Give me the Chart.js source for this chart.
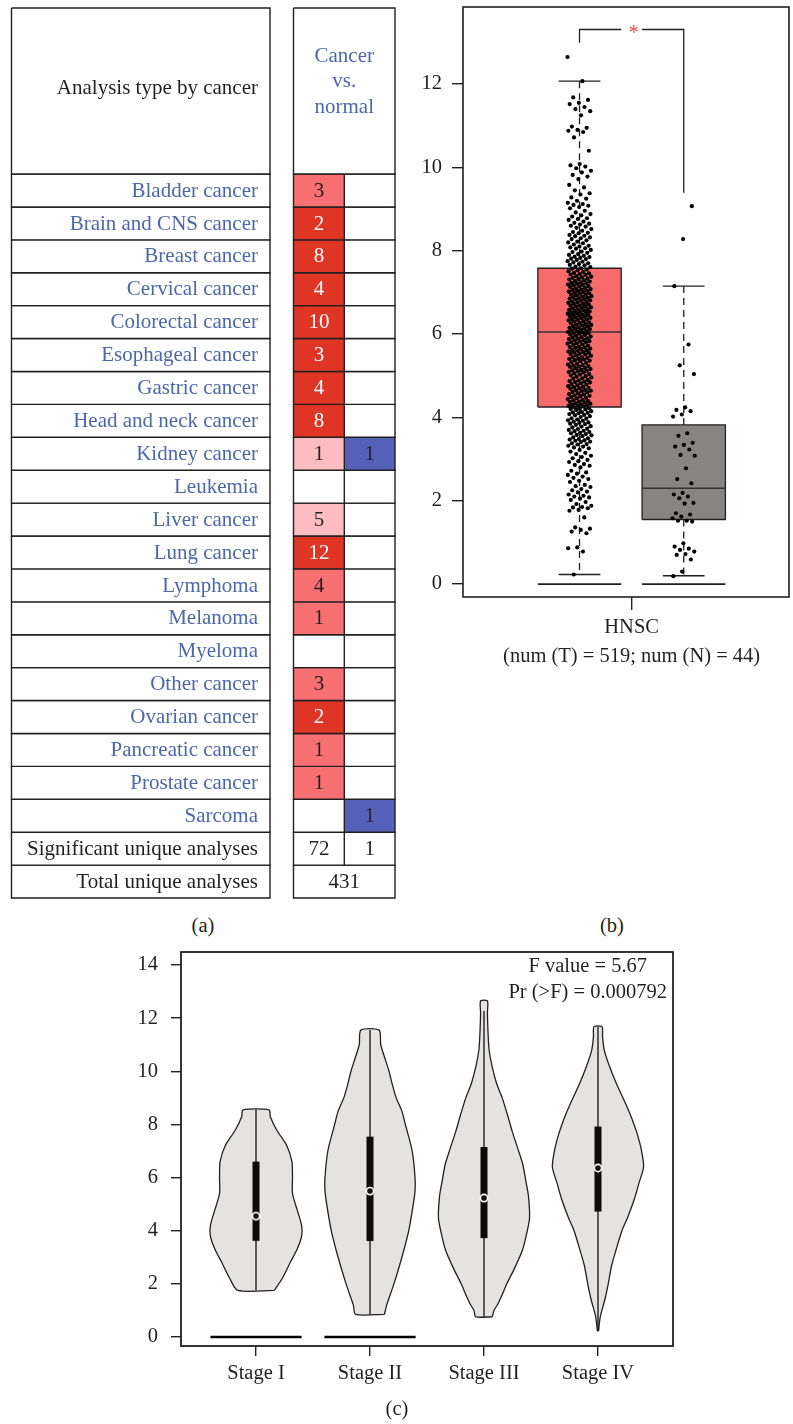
<!DOCTYPE html>
<html>
<head>
<meta charset="utf-8">
<script src="https://cdn.jsdelivr.net/npm/chart.js@4.4.1/dist/chart.umd.min.js"></script>
<style>
  body { margin: 0; background: #fff; width: 793px; height: 1424px; position: relative; overflow: hidden;
         font-family: "Liberation Serif", serif; color: #231f20; }
  .panel { position: absolute; }
  .tag { position: absolute; font-size: 20.5px; transform: translate(-50%, -50%); }
</style>
</head>
<body>
<div class="panel" style="left:0;top:0"><canvas id="tableChart" width="400" height="905"></canvas></div>
<div class="panel" style="left:400px;top:0"><canvas id="boxChart" width="393" height="680"></canvas></div>
<div class="panel" style="left:100px;top:940px"><canvas id="violinChart" width="600" height="460"></canvas></div>
<div class="tag" style="left:203px;top:925px">(a)</div>
<div class="tag" style="left:612px;top:925px">(b)</div>
<div class="tag" style="left:397px;top:1408px">(c)</div>

<script>
// ---- panel (a): Oncomine-style summary table ----
const cancerTypes = ["Bladder cancer", "Brain and CNS cancer", "Breast cancer", "Cervical cancer",
  "Colorectal cancer", "Esophageal cancer", "Gastric cancer", "Head and neck cancer", "Kidney cancer",
  "Leukemia", "Liver cancer", "Lung cancer", "Lymphoma", "Melanoma", "Myeloma", "Other cancer",
  "Ovarian cancer", "Pancreatic cancer", "Prostate cancer", "Sarcoma"];
const overCounts = [3, 2, 8, 4, 10, 3, 4, 8, 1, null, 5, 12, 4, 1, null, 3, 2, 1, 1, null];
// rank level of the over-expression cell: 3 = top 1%, 2 = top 5%, 1 = top 10%
const overLevels = [2, 3, 3, 3, 3, 3, 3, 3, 1, 0, 1, 3, 2, 2, 0, 2, 3, 2, 2, 0];
const underCounts = [null, null, null, null, null, null, null, null, 1, null, null, null, null, null, null, null, null, null, null, 1];
const summaryLabels = ["Significant unique analyses", "Total unique analyses"];
const significantCounts = [72, 1];
const totalAnalyses = 431;

// ---- panel (b): HNSC box plot ----
const groupCenters = [1, 2];
const groupQ1 = [4.25, 1.55];
const groupMedian = [6.05, 2.3];
const groupQ3 = [7.58, 3.82];
const groupLow = [0.23, 0.2];
const groupHigh = [12.07, 7.15];
const groupFills = ["#f86b6b", "#878483"];
const boxYTicks = [0, 2, 4, 6, 8, 10, 12];
const boxXLabel = ["HNSC", "(num (T) = 519; num (N) = 44)"];
const tumorValues = [
  12.65, 12.07, 11.68, 11.62, 11.55, 11.52, 11.45, 11.4, 11.35, 11.25, 10.98, 10.95, 10.9, 10.88, 10.85, 10.72, 10.4,
  10.08, 10.05, 10.02, 9.98, 9.92, 9.88, 9.82, 9.78, 9.72,
  9.58, 9.52, 9.45, 9.38, 9.35, 9.28, 9.25, 9.2, 9.15, 9.12, 9.1, 9.08, 9.05, 9.02,
  8.96, 8.92, 8.88, 8.85, 8.82, 8.78, 8.76, 8.74, 8.7, 8.67, 8.65, 8.63, 8.6, 8.58, 8.55, 8.52,
  8.48, 8.45, 8.43, 8.42, 8.38, 8.36, 8.35, 8.32, 8.3, 8.28, 8.25, 8.22, 8.2, 8.18, 8.15, 8.12, 8.1, 8.08, 8.06, 8.05, 8.02,
  7.98, 7.97, 7.95, 7.92, 7.9, 7.88, 7.86, 7.85, 7.83, 7.81, 7.8, 7.78, 7.75, 7.74, 7.72, 7.7, 7.68, 7.66, 7.65, 7.62, 7.61,
  7.58, 7.57, 7.55, 7.53, 7.51, 7.49,
  7.47, 7.46, 7.44, 7.43, 7.42, 7.39, 7.38, 7.36, 7.35, 7.33, 7.32, 7.31, 7.29, 7.27, 7.26, 7.24, 7.23, 7.22, 7.21, 7.19, 7.18,
  7.17, 7.15, 7.14, 7.13, 7.11, 7.09, 7.08, 7.07, 7.06, 7.04, 7.03, 7.02, 7.01,
  6.99, 6.98, 6.97, 6.95, 6.94, 6.93, 6.91, 6.9, 6.89, 6.87, 6.86, 6.85, 6.84, 6.83, 6.81, 6.8, 6.78, 6.77, 6.76, 6.75, 6.73,
  6.72, 6.71, 6.69, 6.68, 6.67, 6.66, 6.64, 6.63, 6.62, 6.6, 6.59, 6.58, 6.57, 6.55, 6.54, 6.53, 6.52, 6.51, 6.5,
  6.49, 6.47, 6.46, 6.45, 6.44, 6.43, 6.42, 6.4, 6.39, 6.38, 6.36, 6.35, 6.34, 6.33, 6.31, 6.3, 6.28, 6.27, 6.26, 6.24, 6.23,
  6.22, 6.21, 6.19, 6.18, 6.16, 6.15, 6.14, 6.13, 6.12, 6.1, 6.09, 6.07, 6.06, 6.05, 6.04, 6.03, 6.02, 6.01,
  5.99, 5.98, 5.96, 5.94, 5.93, 5.92, 5.9, 5.89, 5.88, 5.86, 5.85, 5.83, 5.82, 5.81, 5.8, 5.78, 5.77, 5.75, 5.74, 5.72,
  5.7, 5.69, 5.68, 5.67, 5.65, 5.64, 5.62, 5.61, 5.6, 5.58, 5.57, 5.56, 5.55, 5.53, 5.52, 5.51,
  5.49, 5.48, 5.45, 5.44, 5.43, 5.41, 5.4, 5.39, 5.37, 5.36, 5.35, 5.32, 5.31, 5.29, 5.27, 5.26, 5.24, 5.23, 5.22, 5.21,
  5.19, 5.18, 5.16, 5.14, 5.13, 5.12, 5.11, 5.09, 5.08, 5.06, 5.04, 5.03, 5.01,
  4.99, 4.98, 4.96, 4.94, 4.93, 4.9, 4.89, 4.87, 4.86, 4.85, 4.84, 4.82, 4.8, 4.79, 4.77, 4.75, 4.74, 4.72, 4.71, 4.7,
  4.69, 4.66, 4.65, 4.64, 4.63, 4.61, 4.6, 4.58, 4.56, 4.55, 4.53, 4.52, 4.51,
  4.49, 4.47, 4.46, 4.44, 4.42, 4.41, 4.39, 4.38, 4.37, 4.36, 4.34, 4.33, 4.31, 4.3, 4.29, 4.28, 4.27, 4.26,
  4.24, 4.22, 4.21, 4.2, 4.19, 4.18, 4.15, 4.13, 4.12, 4.11, 4.1, 4.08, 4.06, 4.05, 4.03, 4.01,
  3.98, 3.97, 3.95, 3.93, 3.92, 3.9, 3.88, 3.87, 3.85, 3.84, 3.82, 3.79, 3.78, 3.76, 3.73, 3.72, 3.7, 3.68, 3.67, 3.65,
  3.63, 3.62, 3.6, 3.58, 3.57, 3.55, 3.52, 3.5,
  3.48, 3.47, 3.45, 3.44, 3.42, 3.41, 3.38, 3.36, 3.35, 3.32, 3.3, 3.28, 3.26, 3.22, 3.18, 3.15, 3.12, 3.08, 3.05, 3.02,
  2.98, 2.95, 2.93, 2.88, 2.86, 2.84, 2.8, 2.72, 2.68, 2.65, 2.62, 2.58, 2.55, 2.52,
  2.48, 2.45, 2.38, 2.35, 2.33, 2.28, 2.25, 2.22, 2.2, 2.15, 2.12, 2.1, 2.08, 2.05, 2.02,
  1.97, 1.92, 1.88, 1.85, 1.84, 1.82, 1.78, 1.76, 1.6,
  1.36, 1.33, 1.3, 1.26, 1.22, 0.88, 0.86, 0.78, 0.23
];
const normalValues = [9.07, 8.28, 7.15, 5.75, 5.25, 5.04, 4.24, 4.18, 4.15, 4.07, 4.02, 3.62, 3.56, 3.39, 3.34,
  3.3, 3.23, 3.1, 3.08, 2.78, 2.52, 2.42, 2.19, 2.15, 2.1, 2.06, 1.95, 1.93, 1.7, 1.67, 1.62, 1.58, 1.52,
  1.52, 1.5, 0.98, 0.9, 0.85, 0.82, 0.78, 0.72, 0.7, 0.59, 0.3, 0.19];
const bracket = { left: 12.99, top: 13.31, right: 9.39 };

// ---- panel (c): violin plot by stage ----
const stageLabels = ["Stage I", "Stage II", "Stage III", "Stage IV"];
const violinLevels = [
  [1.75, 2.2, 2.8, 3.3, 3.8, 4.2, 4.8, 5.4, 6.0, 6.6, 7.2, 7.8, 8.3, 8.55],
  [0.85, 1.2, 2.0, 3.0, 4.0, 5.0, 5.5, 6.0, 7.0, 8.0, 8.5, 9.0, 9.5, 10.0, 10.5, 11.0, 11.55],
  [0.76, 1.0, 1.27, 1.6, 2.0, 2.6, 3.3, 4.0, 4.5, 5.3, 5.8, 6.5, 7.05, 7.7, 8.3, 9.0, 9.55, 10.2, 10.8, 11.5, 12.2, 12.65],
  [0.23, 0.76, 1.4, 2.0, 2.7, 3.3, 4.0, 4.5, 5.2, 5.8, 6.4, 7.05, 7.7, 8.3, 8.9, 9.55, 10.2, 10.8, 11.3, 11.68]
];
const violinWidths = [
  [0.16, 0.23, 0.3, 0.36, 0.4, 0.4, 0.36, 0.32, 0.32, 0.315, 0.27, 0.18, 0.125, 0.115],
  [0.127, 0.146, 0.21, 0.28, 0.34, 0.38, 0.395, 0.395, 0.37, 0.31, 0.28, 0.23, 0.196, 0.167, 0.13, 0.094, 0.08],
  [0.073, 0.088, 0.125, 0.16, 0.2, 0.27, 0.34, 0.38, 0.4, 0.39, 0.37, 0.34, 0.3, 0.25, 0.21, 0.16, 0.11, 0.07, 0.045, 0.035, 0.03, 0.03],
  [0.005, 0.02, 0.06, 0.09, 0.12, 0.16, 0.21, 0.26, 0.32, 0.36, 0.4, 0.38, 0.34, 0.29, 0.23, 0.16, 0.1, 0.055, 0.04, 0.035]
];
const stageQ1 = [3.62, 3.61, 3.72, 4.72];
const stageMedian = [4.55, 5.49, 5.23, 6.36];
const stageQ3 = [6.6, 7.54, 7.15, 7.92];
const stageLow = [1.75, 0.85, 0.76, 0.23];
const stageHigh = [8.55, 11.55, 12.27, 11.68];
const zeroStages = [1, 2];
const violinYTicks = [0, 2, 4, 6, 8, 10, 12, 14];
const anovaText = ["F value = 5.67", "Pr (>F) = 0.000792"];

// ---- shared style ----
const ink = "#231f20";
const linkBlue = "#4a68aa";
const serif = '"Liberation Serif", "Times New Roman", serif';
const levelColors = ["#ffffff", "#fdbcc0", "#f87071", "#df3524"];
const underColor = "#5560b8";
Chart.defaults.font.family = serif;
Chart.defaults.font.size = 20.5;
Chart.defaults.color = ink;

const baseOptions = {
  responsive: false,
  animation: false,
  events: [],
  plugins: { legend: { display: false }, tooltip: { enabled: false } }
};

function line(points, color, width, extra) {
  return Object.assign({ data: points, showLine: true, fill: false, borderColor: color, borderWidth: width,
    pointRadius: 0, clip: false, order: 2 }, extra || {});
}
function rect(x0, x1, y0, y1, fillColor, width, order) {
  return line([{ x: x0, y: y0 }, { x: x1, y: y0 }, { x: x1, y: y1 }, { x: x0, y: y1 }, { x: x0, y: y0 }],
    ink, width, { fill: "shape", backgroundColor: fillColor, order: order });
}
// keep the plot area exactly where the figure has it
function fixWidth(w) {
  return (axis) => { axis.width = w; axis.paddingTop = 0; axis.paddingBottom = 0; };
}
function fixHeight(h) {
  return (axis) => { axis.height = h; axis.paddingLeft = 0; axis.paddingRight = 0; };
}

// ========== panel (a) ==========
const colLabel = [0.5, 259], colOver = [282.5, 333.3], colUnder = [333.3, 384];
const headerTop = -5.045;
const tableSets = [];
tableSets.push(rect(colLabel[0], colLabel[1], headerTop, 0, "#fff", 1.4, 1));
tableSets.push(rect(colOver[0], colUnder[1], headerTop, 0, "#fff", 1.4, 1));
const rowCount = cancerTypes.length + summaryLabels.length;
for (let r = 0; r < rowCount; r++) {
  tableSets.push(rect(colLabel[0], colLabel[1], r, r + 1, "#fff", 1.4, 1));
}
cancerTypes.forEach((name, r) => {
  tableSets.push(rect(colOver[0], colOver[1], r, r + 1, levelColors[overLevels[r]], 1.4, 1));
  tableSets.push(rect(colUnder[0], colUnder[1], r, r + 1, underCounts[r] ? underColor : "#fff", 1.4, 1));
});
const sigRow = cancerTypes.length;
tableSets.push(rect(colOver[0], colOver[1], sigRow, sigRow + 1, "#fff", 1.4, 1));
tableSets.push(rect(colUnder[0], colUnder[1], sigRow, sigRow + 1, "#fff", 1.4, 1));
tableSets.push(rect(colOver[0], colUnder[1], sigRow + 1, sigRow + 2, "#fff", 1.4, 1));

const tableText = {
  id: "tableText",
  afterDatasetsDraw(chart) {
    const { ctx, scales: { x, y } } = chart;
    const mid = (c) => x.getPixelForValue((c[0] + c[1]) / 2);
    ctx.save();
    ctx.font = "21px " + serif;
    ctx.textBaseline = "middle";
    ctx.textAlign = "right";
    ctx.fillStyle = ink;
    ctx.fillText("Analysis type by cancer", x.getPixelForValue(247), y.getPixelForValue(-2.6));
    ctx.textAlign = "center";
    ctx.fillStyle = linkBlue;
    ["Cancer", "vs.", "normal"].forEach((t, i) => {
      ctx.fillText(t, x.getPixelForValue((colOver[0] + colUnder[1]) / 2), y.getPixelForValue(-3.58 + i * 0.78));
    });
    cancerTypes.forEach((name, r) => {
      const yy = y.getPixelForValue(r + 0.52);
      ctx.textAlign = "right";
      ctx.fillStyle = linkBlue;
      ctx.fillText(name, x.getPixelForValue(247), yy);
      ctx.textAlign = "center";
      if (overCounts[r] !== null) {
        ctx.fillStyle = overLevels[r] === 3 ? "#ffffff" : ink;
        ctx.fillText(String(overCounts[r]), mid(colOver), yy);
      }
      if (underCounts[r] !== null) {
        ctx.fillStyle = ink;
        ctx.fillText(String(underCounts[r]), mid(colUnder), yy);
      }
    });
    ctx.fillStyle = ink;
    summaryLabels.forEach((label, i) => {
      ctx.textAlign = "right";
      ctx.fillText(label, x.getPixelForValue(247), y.getPixelForValue(sigRow + i + 0.52));
    });
    ctx.textAlign = "center";
    ctx.fillText(String(significantCounts[0]), mid(colOver), y.getPixelForValue(sigRow + 0.52));
    ctx.fillText(String(significantCounts[1]), mid(colUnder), y.getPixelForValue(sigRow + 0.52));
    ctx.fillText(String(totalAnalyses), x.getPixelForValue((colOver[0] + colUnder[1]) / 2), y.getPixelForValue(sigRow + 1.52));
    ctx.restore();
  }
};

new Chart(document.getElementById("tableChart"), {
  type: "scatter",
  data: { datasets: tableSets },
  options: Object.assign({}, baseOptions, {
    layout: { padding: { left: 11, right: 5, top: 8, bottom: 7 } },
    scales: {
      x: { type: "linear", display: false, min: 0, max: 384 },
      y: { type: "linear", display: false, min: headerTop, max: rowCount, reverse: true }
    }
  }),
  plugins: [tableText]
});

// ========== panel (b) ==========
function jitter(i, spread) {
  return (((i * 0.6180339887) % 1) - 0.5) * 2 * spread;
}
const boxSets = [];
boxSets.push({ data: tumorValues.map((v, i) => ({ x: groupCenters[0] + jitter(i, 0.115), y: v })),
  pointRadius: 2.1, pointBackgroundColor: "#000", pointBorderWidth: 0, showLine: false, order: 0, clip: false });
boxSets.push({ data: normalValues.map((v, i) => ({ x: groupCenters[1] + jitter(i + 3, 0.11), y: v })),
  pointRadius: 2.1, pointBackgroundColor: "#000", pointBorderWidth: 0, showLine: false, order: 0, clip: false });
groupCenters.forEach((cx, g) => {
  boxSets.push(rect(cx - 0.4, cx + 0.4, groupQ1[g], groupQ3[g], groupFills[g], 1.3, 3));
  boxSets.push(line([{ x: cx - 0.4, y: groupMedian[g] }, { x: cx + 0.4, y: groupMedian[g] }], "#333", 1.5, { order: 1 }));
  boxSets.push(line([{ x: cx, y: groupQ3[g] }, { x: cx, y: groupHigh[g] }], ink, 1.3, { borderDash: [7, 5] }));
  boxSets.push(line([{ x: cx, y: groupQ1[g] }, { x: cx, y: groupLow[g] }], ink, 1.3, { borderDash: [7, 5] }));
  boxSets.push(line([{ x: cx - 0.2, y: groupHigh[g] }, { x: cx + 0.2, y: groupHigh[g] }], ink, 1.4));
  boxSets.push(line([{ x: cx - 0.2, y: groupLow[g] }, { x: cx + 0.2, y: groupLow[g] }], ink, 1.4));
  boxSets.push(line([{ x: cx - 0.4, y: 0 }, { x: cx + 0.4, y: 0 }], ink, 1.6));
});
boxSets.push(line([{ x: 1, y: bracket.left }, { x: 1, y: bracket.top }, { x: 1.4, y: bracket.top }], ink, 1.3));
boxSets.push(line([{ x: 1.6, y: bracket.top }, { x: 2, y: bracket.top }, { x: 2, y: bracket.right }], ink, 1.3));

const frameAndStar = {
  id: "frameAndStar",
  afterDatasetsDraw(chart) {
    const { ctx, chartArea: a, scales: { x, y } } = chart;
    ctx.save();
    ctx.strokeStyle = ink;
    ctx.lineWidth = 1.6;
    ctx.strokeRect(a.left, a.top, a.right - a.left, a.bottom - a.top);
    ctx.fillStyle = "#e8463c";
    ctx.font = "20px " + serif;
    ctx.textAlign = "center";
    ctx.textBaseline = "middle";
    ctx.fillText("*", x.getPixelForValue(1.52), y.getPixelForValue(bracket.top) + 4);
    ctx.restore();
  }
};

new Chart(document.getElementById("boxChart"), {
  type: "scatter",
  data: { datasets: boxSets },
  options: Object.assign({}, baseOptions, {
    layout: { padding: { left: 0, right: 1, top: 7, bottom: 0 } },
    scales: {
      x: {
        type: "linear", min: -0.118, max: 3.01,
        afterBuildTicks: (axis) => { axis.ticks = [{ value: 1.5 }]; },
        afterFit: fixHeight(83),
        ticks: { callback: () => boxXLabel, padding: 3, font: { size: 20.5, lineHeight: 1.41 }, maxRotation: 0 },
        grid: { drawOnChartArea: false, tickLength: 13, color: ink, lineWidth: 1.4 },
        border: { display: false }
      },
      y: {
        type: "linear", min: -0.31, max: 13.85,
        afterBuildTicks: (axis) => { axis.ticks = boxYTicks.map((v) => ({ value: v })); },
        afterFit: fixWidth(63),
        ticks: { padding: 10 },
        grid: { drawOnChartArea: false, tickLength: 11, color: ink, lineWidth: 1.4 },
        border: { display: false }
      }
    }
  }),
  plugins: [frameAndStar]
});

// ========== panel (c) ==========
const violinSets = [];
stageLabels.forEach((label, s) => {
  const cx = s + 1;
  const lv = violinLevels[s], wd = violinWidths[s];
  const right = lv.map((v, i) => ({ x: cx + wd[i], y: v }));
  const left = lv.map((v, i) => ({ x: cx - wd[i], y: v })).reverse();
  const outline = right.concat(left);
  outline.push(outline[0]);
  violinSets.push(line(outline, ink, 1.3, { fill: "shape", backgroundColor: "#e4e3e2", tension: 0.25, order: 4 }));
  violinSets.push(line([{ x: cx, y: stageLow[s] }, { x: cx, y: stageHigh[s] }], "#111", 1.3, { order: 3 }));
  violinSets.push(line([{ x: cx, y: stageQ1[s] }, { x: cx, y: stageQ3[s] }], "#0b0b0b", 7, { order: 2, borderCapStyle: "butt" }));
  violinSets.push({ data: [{ x: cx, y: stageMedian[s] }], pointRadius: 3.6, pointBackgroundColor: "#111",
    pointBorderColor: "#fff", pointBorderWidth: 1.6, showLine: false, order: 0, clip: false });
});
zeroStages.forEach((cx) => {
  violinSets.push(line([{ x: cx - 0.4, y: 0 }, { x: cx + 0.4, y: 0 }], "#000", 2.6, { order: 1 }));
});

const frameAndAnova = {
  id: "frameAndAnova",
  afterDatasetsDraw(chart) {
    const { ctx, chartArea: a, scales: { x, y } } = chart;
    ctx.save();
    ctx.strokeStyle = ink;
    ctx.lineWidth = 1.8;
    ctx.strokeRect(a.left, a.top, a.right - a.left, a.bottom - a.top);
    ctx.fillStyle = ink;
    ctx.font = "20.5px " + serif;
    ctx.textAlign = "center";
    ctx.textBaseline = "middle";
    ctx.fillText(anovaText[0], x.getPixelForValue(3.91), y.getPixelForValue(13.93));
    ctx.fillText(anovaText[1], x.getPixelForValue(3.91), y.getPixelForValue(12.95));
    ctx.restore();
  }
};

new Chart(document.getElementById("violinChart"), {
  type: "scatter",
  data: { datasets: violinSets },
  options: Object.assign({}, baseOptions, {
    layout: { padding: { left: 0, right: 27, top: 12, bottom: 0 } },
    scales: {
      x: {
        type: "linear", min: 0.342, max: 4.658,
        afterBuildTicks: (axis) => { axis.ticks = stageLabels.map((l, i) => ({ value: i + 1 })); },
        afterFit: fixHeight(54),
        ticks: { callback: (v, i) => stageLabels[i], padding: 5, maxRotation: 0 },
        grid: { drawOnChartArea: false, tickLength: 10, color: ink, lineWidth: 1.4 },
        border: { display: false }
      },
      y: {
        type: "linear", min: -0.34, max: 14.49,
        afterBuildTicks: (axis) => { axis.ticks = violinYTicks.map((v) => ({ value: v })); },
        afterFit: fixWidth(81),
        ticks: { padding: 13 },
        grid: { drawOnChartArea: false, tickLength: 10, color: ink, lineWidth: 1.4 },
        border: { display: false }
      }
    }
  }),
  plugins: [frameAndAnova]
});
</script>
</body>
</html>
